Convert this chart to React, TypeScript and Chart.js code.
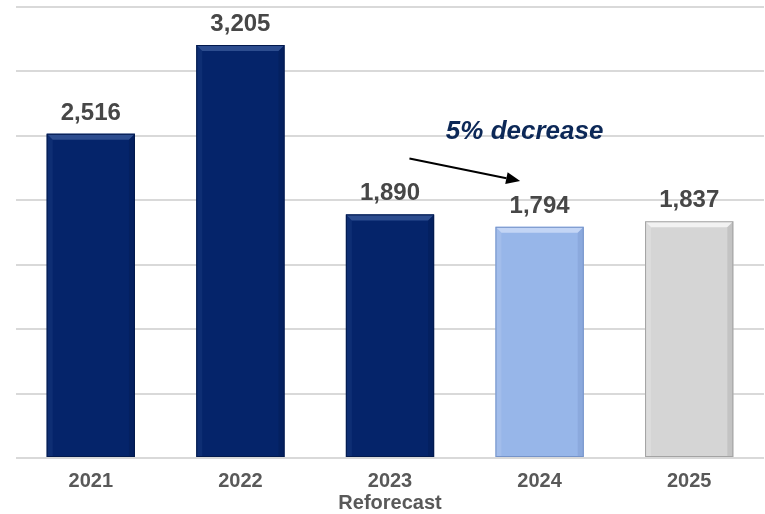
import React, { useEffect, useRef } from "react";
import { Chart, registerables } from "chart.js";

Chart.register(...registerables);

const categories: (string | string[])[] = ["2021", "2022", ["2023", "Reforecast"], "2024", "2025"];
const values: number[] = [2516, 3205, 1890, 1794, 1837];
const valueLabels: string[] = ["2,516", "3,205", "1,890", "1,794", "1,837"];
const barColors: string[] = ["#05246a", "#05246a", "#05246a", "#97b6e9", "#d5d5d5"];
const bevelLight: string[] = ["#2d4d8f", "#2d4d8f", "#2d4d8f", "#c3d5f5", "#f2f2f2"];
const bevelDark: string[] = ["#031a4d", "#031a4d", "#031a4d", "#7593c9", "#a3a3a3"];
const yTicks: number[] = [0, 500, 1000, 1500, 2000, 2500, 3000, 3500];
const annotationText = "5% decrease";

const FONT = "'Liberation Sans', Arial, sans-serif";

const bevelPlugin = {
  id: "bevel",
  afterDatasetsDraw(chart: any) {
    const ctx = chart.ctx;
    const meta = chart.getDatasetMeta(0);
    meta.data.forEach((bar: any, i: number) => {
      const { x, y, base, width } = bar.getProps(["x", "y", "base", "width"], true);
      const x0 = x - width / 2;
      const x1 = x + width / 2;
      const y0 = y;
      const y1 = base;
      const b = 6;
      ctx.save();
      ctx.fillStyle = bevelLight[i];
      ctx.beginPath();
      ctx.moveTo(x0, y0);
      ctx.lineTo(x1, y0);
      ctx.lineTo(x1 - b, y0 + b);
      ctx.lineTo(x0 + b, y0 + b);
      ctx.closePath();
      ctx.fill();
      ctx.globalAlpha = 0.25;
      ctx.beginPath();
      ctx.moveTo(x0, y0);
      ctx.lineTo(x0 + b, y0 + b);
      ctx.lineTo(x0 + b, y1);
      ctx.lineTo(x0, y1);
      ctx.closePath();
      ctx.fill();
      ctx.globalAlpha = 0.35;
      ctx.fillStyle = bevelDark[i];
      ctx.beginPath();
      ctx.moveTo(x1, y0);
      ctx.lineTo(x1 - b, y0 + b);
      ctx.lineTo(x1 - b, y1);
      ctx.lineTo(x1, y1);
      ctx.closePath();
      ctx.fill();
      ctx.globalAlpha = 1;
      ctx.strokeStyle = bevelDark[i];
      ctx.lineWidth = 1;
      ctx.strokeRect(x0 + 0.5, y0 + 0.5, width - 1, y1 - y0 - 1);
      ctx.restore();
    });
  },
};

const labelPlugin = {
  id: "valueLabels",
  afterDatasetsDraw(chart: any) {
    const ctx = chart.ctx;
    const meta = chart.getDatasetMeta(0);
    ctx.save();
    ctx.font = `bold 24px ${FONT}`;
    ctx.fillStyle = "#474747";
    ctx.textAlign = "center";
    ctx.textBaseline = "alphabetic";
    meta.data.forEach((bar: any, i: number) => {
      ctx.fillText(valueLabels[i], bar.x, bar.y - 14);
    });
    ctx.restore();
  },
};

const annotationPlugin = {
  id: "annotation",
  afterDatasetsDraw(chart: any) {
    const ctx = chart.ctx;
    const xs = chart.scales.x;
    const ys = chart.scales.y;
    const px = (v: number) => xs.getPixelForValue(0) + v * (xs.getPixelForValue(1) - xs.getPixelForValue(0));
    ctx.save();
    ctx.font = `italic bold 26px ${FONT}`;
    ctx.fillStyle = "#0c2857";
    ctx.textAlign = "center";
    ctx.textBaseline = "middle";
    ctx.fillText(annotationText, px(2.9), ys.getPixelForValue(2530));
    const sx = px(2.13), sy = ys.getPixelForValue(2325);
    const ex = px(2.87), ey = ys.getPixelForValue(2150);
    const ang = Math.atan2(ey - sy, ex - sx);
    const head = 14;
    const hx = ex - head * Math.cos(ang);
    const hy = ey - head * Math.sin(ang);
    ctx.strokeStyle = "#000";
    ctx.lineWidth = 2;
    ctx.beginPath();
    ctx.moveTo(sx, sy);
    ctx.lineTo(hx, hy);
    ctx.stroke();
    ctx.fillStyle = "#000";
    ctx.beginPath();
    ctx.moveTo(ex, ey);
    ctx.lineTo(hx + 6 * Math.sin(ang), hy - 6 * Math.cos(ang));
    ctx.lineTo(hx - 6 * Math.sin(ang), hy + 6 * Math.cos(ang));
    ctx.closePath();
    ctx.fill();
    ctx.restore();
  },
};

export default function App() {
  const ref = useRef<HTMLCanvasElement | null>(null);
  useEffect(() => {
    if (!ref.current) return;
    const chart = new Chart(ref.current, {
      type: "bar",
      data: {
        labels: categories as any,
        datasets: [
          {
            data: values,
            backgroundColor: barColors,
            borderWidth: 0,
            barPercentage: 0.59,
            categoryPercentage: 1,
          },
        ],
      },
      options: {
        animation: false,
        responsive: false,
        maintainAspectRatio: false,
        layout: { padding: { left: 16, right: 1, top: 7, bottom: -12 } },
        plugins: { legend: { display: false }, tooltip: { enabled: false } },
        scales: {
          x: {
            grid: { display: false, drawTicks: false },
            border: { display: false },
            ticks: {
              color: "#595959",
              padding: 12,
              font: { family: FONT, size: 20, weight: "bold", lineHeight: 1.1 },
              maxRotation: 0,
              autoSkip: false,
            },
          },
          y: {
            min: 0,
            max: 3500,
            afterBuildTicks: (axis: any) => {
              axis.ticks = yTicks.map((v) => ({ value: v }));
            },
            ticks: { display: false },
            grid: { color: "#d9d9d9", lineWidth: 2, drawTicks: false },
            border: { display: false },
          },
        },
      },
      plugins: [bevelPlugin, labelPlugin, annotationPlugin],
    });
    return () => chart.destroy();
  }, []);
  return (
    <div style={{ position: "absolute", left: 0, top: 0, width: 765, height: 514, background: "#fff" }}>
      <canvas ref={ref} width={765} height={514} style={{ width: 765, height: 514 }} />
    </div>
  );
}
